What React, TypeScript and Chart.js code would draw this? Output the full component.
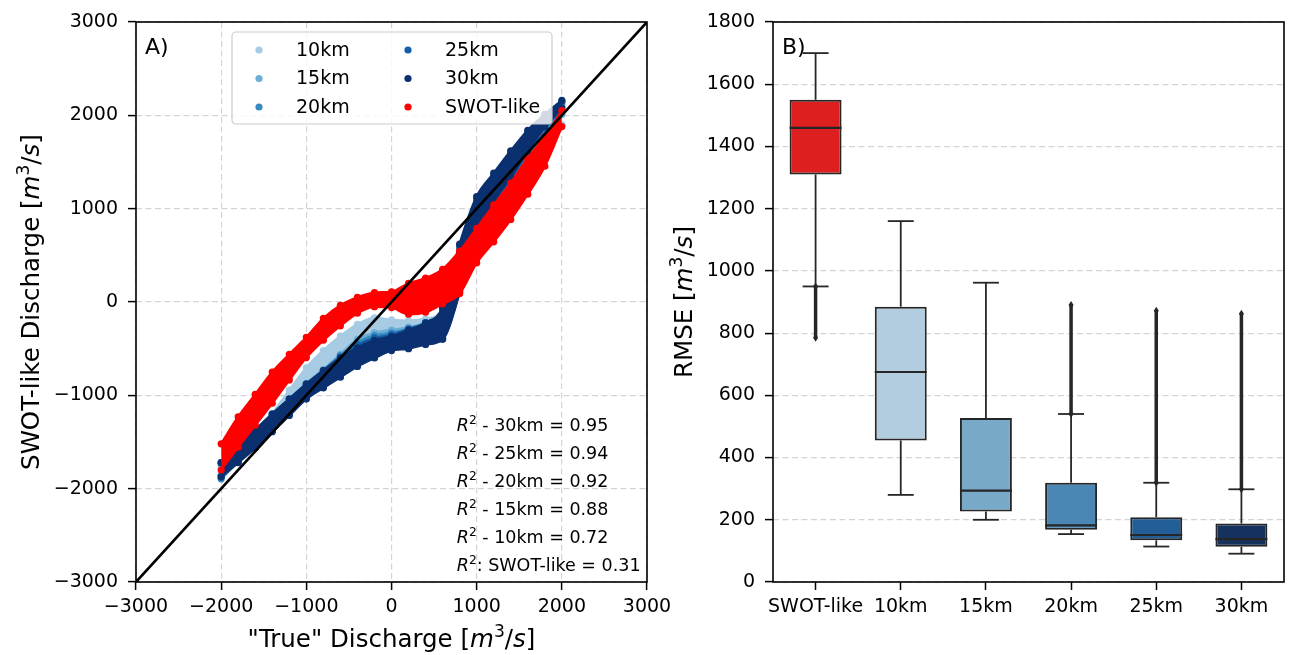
import { useEffect, useRef } from 'react';
import { Chart, registerables } from 'chart.js';

Chart.register(...registerables);

// ---------------- Panel A data (scatter bands) ----------------
const trueQ = [-2000, -1800, -1600, -1400, -1200, -1000, -800, -600, -400, -200, 0, 200, 400, 600, 800, 1000, 1200, 1400, 1600, 1800, 2000];

const swotUpper = [-1520, -1230, -990, -750, -560, -380, -175, -35, 50, 100, 110, 200, 255, 350, 545, 790, 1040, 1275, 1540, 1770, 2050];
const swotLower = [-1800, -1555, -1320, -1085, -835, -595, -410, -255, -120, -50, -60, -130, -110, -20, 90, 420, 645, 885, 1155, 1455, 1880];

const km10Upper = [-1760, -1640, -1430, -1195, -945, -705, -520, -365, -240, -170, -190, -200, -180, -90, 450, 930, 1180, 1430, 1700, 1960, 2090];
const km10Lower = [-1850, -1700, -1530, -1350, -1160, -985, -840, -715, -600, -510, -440, -420, -380, -280, 180, 700, 950, 1200, 1440, 1690, 1900];

const km15Upper = [-1735, -1560, -1385, -1210, -1040, -875, -725, -560, -400, -330, -300, -270, -220, -90, 540, 1040, 1290, 1540, 1770, 1990, 2120];
const km15Lower = [-1860, -1700, -1540, -1365, -1185, -1010, -890, -775, -660, -570, -485, -465, -425, -370, 150, 740, 1020, 1280, 1550, 1820, 2010];

const km20Upper = [-1725, -1550, -1378, -1205, -1038, -877, -732, -575, -430, -360, -330, -285, -220, -80, 575, 1080, 1330, 1575, 1800, 2000, 2135];
const km20Lower = [-1895, -1712, -1552, -1375, -1195, -1022, -902, -788, -672, -582, -497, -477, -437, -387, 125, 760, 1045, 1305, 1580, 1845, 2040];

const km25Upper = [-1722, -1545, -1374, -1202, -1040, -879, -734, -590, -460, -385, -350, -290, -222, -70, 600, 1105, 1355, 1600, 1820, 2005, 2150];
const km25Lower = [-1878, -1716, -1558, -1383, -1206, -1032, -912, -797, -682, -592, -510, -490, -447, -395, 110, 770, 1060, 1320, 1600, 1862, 2060];

const km30Upper = [-1720, -1540, -1370, -1200, -1040, -880, -735, -600, -490, -410, -370, -300, -225, -60, 620, 1130, 1380, 1620, 1840, 2010, 2160];
const km30Lower = [-1870, -1720, -1565, -1390, -1215, -1040, -920, -805, -690, -600, -520, -500, -455, -400, 100, 780, 1080, 1340, 1620, 1880, 2080];

const oneToOne = [-3000, 3000];

const axisTicksA = [-3000, -2000, -1000, 0, 1000, 2000, 3000];

const r2Names = ['30km', '25km', '20km', '15km', '10km', 'SWOT-like'];
const r2Values = [0.95, 0.94, 0.92, 0.88, 0.72, 0.31];
const r2TextX = 790;
const r2TextY = [-1320, -1620, -1920, -2220, -2520, -2820];

const legendNames = ['10km', '15km', '20km', '25km', '30km', 'SWOT-like'];
const legendColors = ['#a6cbe3', '#6baed6', '#3a8ac2', '#1460a8', '#0a3070', '#ff0000'];

// ---------------- Panel B data (box plot) ----------------
const boxCategories = ['SWOT-like', '10km', '15km', '20km', '25km', '30km'];
const whiskerLow = [950, 280, 200, 154, 114, 91];
const q1 = [1310, 455, 227, 168, 134, 113];
const median = [1460, 675, 294, 182, 151, 138];
const q3 = [1550, 885, 527, 319, 208, 188];
const whiskerHigh = [1700, 1160, 962, 540, 319, 298];
const flierMin: (number | null)[] = [785, null, null, 540, 319, 298];
const flierMax: (number | null)[] = [950, null, null, 890, 872, 862];
const boxColors = ['#dd1f20', '#b3cde0', '#79a9c9', '#4a87b5', '#225e97', '#15325f'];

// ---------------- helpers ----------------
const FAM = '"DejaVu Sans", sans-serif';
type Seg = { t: string; i?: boolean; s?: boolean };

function segFont(seg: Seg, size: number) {
  const sz = seg.s ? size * 0.7 : size;
  return `${seg.i ? 'italic ' : ''}${sz}px ${FAM}`;
}
function richWidth(ctx: CanvasRenderingContext2D, segs: Seg[], size: number) {
  let w = 0;
  for (const s of segs) {
    ctx.font = segFont(s, size);
    w += ctx.measureText(s.t).width;
  }
  return w;
}
function drawRich(ctx: CanvasRenderingContext2D, segs: Seg[], x: number, y: number, size: number, align: 'left' | 'center') {
  const w = richWidth(ctx, segs, size);
  let cx = align === 'center' ? x - w / 2 : x;
  ctx.textBaseline = 'alphabetic';
  ctx.textAlign = 'left';
  ctx.fillStyle = '#000';
  for (const s of segs) {
    ctx.font = segFont(s, size);
    ctx.fillText(s.t, cx, s.s ? y - size * 0.42 : y);
    cx += ctx.measureText(s.t).width;
  }
}
const unitSegs: Seg[] = [{ t: 'm', i: true }, { t: '3', s: true }, { t: '/' }, { t: 's', i: true }, { t: ']' }];

function fmtNum(v: number) {
  return v < 0 ? '\u2212' + Math.abs(v) : String(v);
}

const TICK_FONT = { family: FAM, size: 19 };
const GRID_COLOR = '#d4d4d4';
const DASH = [6, 3.5];

export default function App() {
  const leftRef = useRef<HTMLCanvasElement>(null);
  const rightRef = useRef<HTMLCanvasElement>(null);

  useEffect(() => {
    const series = [
      { name: 'SWOT-like', color: '#ff0000', upper: swotUpper, lower: swotLower },
      { name: '30km', color: '#0a3070', upper: km30Upper, lower: km30Lower },
      { name: '25km', color: '#1460a8', upper: km25Upper, lower: km25Lower },
      { name: '20km', color: '#3a8ac2', upper: km20Upper, lower: km20Lower },
      { name: '15km', color: '#6baed6', upper: km15Upper, lower: km15Lower },
      { name: '10km', color: '#a6cbe3', upper: km10Upper, lower: km10Lower },
    ];
    const datasets: any[] = [
      {
        label: '1:1',
        data: oneToOne.map((v) => ({ x: v, y: v })),
        borderColor: '#000',
        borderWidth: 2.6,
        pointRadius: 0,
        fill: false,
      },
    ];
    series.forEach((s) => {
      const lowerIdx = datasets.length;
      const common = {
        borderColor: s.color,
        backgroundColor: s.color,
        pointBackgroundColor: s.color,
        borderWidth: 2.5,
        pointRadius: 3.6,
        pointBorderWidth: 0,
        cubicInterpolationMode: 'monotone',
      };
      datasets.push({
        ...common,
        label: s.name + ' lower',
        data: trueQ.map((x, i) => ({ x, y: s.lower[i] })),
        fill: false,
      });
      datasets.push({
        ...common,
        label: s.name,
        data: trueQ.map((x, i) => ({ x, y: s.upper[i] })),
        fill: lowerIdx,
      });
    });

    const framePlugin = {
      id: 'frame',
      afterDraw(chart: any) {
        const { ctx, chartArea: a } = chart;
        ctx.save();
        ctx.strokeStyle = '#000';
        ctx.lineWidth = 1.6;
        ctx.strokeRect(a.left, a.top, a.right - a.left, a.bottom - a.top);
        ctx.restore();
      },
    };

    const panelAPlugin = {
      id: 'panelA',
      afterDraw(chart: any) {
        const { ctx, chartArea: a, scales } = chart;
        ctx.save();
        // legend
        const lx = a.left + 96, ly = a.top + 10, lw = 320, lh = 92;
        ctx.beginPath();
        ctx.roundRect(lx, ly, lw, lh, 4);
        ctx.fillStyle = 'rgba(255,255,255,0.82)';
        ctx.fill();
        ctx.strokeStyle = '#cccccc';
        ctx.lineWidth = 1.2;
        ctx.stroke();
        legendNames.forEach((n, i) => {
          const col = Math.floor(i / 3), row = i % 3;
          const mx = a.left + (col === 0 ? 123 : 272);
          const my = a.top + 28 + row * 28.5;
          ctx.beginPath();
          ctx.arc(mx, my, 3.6, 0, Math.PI * 2);
          ctx.fillStyle = legendColors[i];
          ctx.fill();
          ctx.fillStyle = '#000';
          ctx.font = `19px ${FAM}`;
          ctx.textAlign = 'left';
          ctx.textBaseline = 'middle';
          ctx.fillText(n, mx + 37, my + 1);
        });
        // panel label
        ctx.font = `22px ${FAM}`;
        ctx.textAlign = 'left';
        ctx.textBaseline = 'alphabetic';
        ctx.fillStyle = '#000';
        ctx.fillText('A)', a.left + 9, a.top + 32);
        // R2 annotations
        r2Names.forEach((n, i) => {
          const px = scales.x.getPixelForValue(r2TextX);
          const py = scales.y.getPixelForValue(r2TextY[i]);
          const sep = n === 'SWOT-like' ? ': ' : ' - ';
          drawRich(ctx, [{ t: 'R', i: true }, { t: '2', s: true }, { t: `${sep}${n} = ${r2Values[i].toFixed(2)}` }], px - 2, py + 6, 17.5, 'left');
        });
        // axis titles
        drawRich(ctx, [{ t: '"True" Discharge [' }, ...unitSegs], (a.left + a.right) / 2, 647, 24.5, 'center');
        ctx.save();
        ctx.translate(30, (a.top + a.bottom) / 2);
        ctx.rotate(-Math.PI / 2);
        drawRich(ctx, [{ t: 'SWOT-like Discharge [' }, ...unitSegs], 0, 9, 24.5, 'center');
        ctx.restore();
        ctx.restore();
      },
    };

    const c1 = new Chart(leftRef.current!, {
      type: 'line',
      data: { datasets },
      options: {
        responsive: false,
        animation: false,
        events: [],
        layout: { padding: { top: 22, right: 33, left: 0, bottom: 0 } },
        plugins: { legend: { display: false }, tooltip: { enabled: false } },
        scales: {
          x: {
            type: 'linear',
            min: -3000,
            max: 3000,
            afterBuildTicks: (s: any) => { s.ticks = axisTicksA.map((v) => ({ value: v })); },
            ticks: { font: TICK_FONT, color: '#000', padding: 6, maxRotation: 0, autoSkip: false, callback: (v: any) => fmtNum(Number(v)) },
            grid: { color: GRID_COLOR, lineWidth: 1.2, tickColor: '#000', tickLength: 8, tickWidth: 1.5 },
            border: { display: false, dash: DASH },
            afterFit: (s: any) => { s.height = 73; s.paddingLeft = 0; s.paddingRight = 0; },
          },
          y: {
            type: 'linear',
            min: -3000,
            max: 3000,
            afterBuildTicks: (s: any) => { s.ticks = axisTicksA.map((v) => ({ value: v })); },
            ticks: { font: TICK_FONT, color: '#000', padding: 10, callback: (v: any) => fmtNum(Number(v)) },
            grid: { color: GRID_COLOR, lineWidth: 1.2, tickColor: '#000', tickLength: 8, tickWidth: 1.5 },
            border: { display: false, dash: DASH },
            afterFit: (s: any) => { s.width = 136; s.paddingTop = 0; s.paddingBottom = 0; },
          },
        },
      },
      plugins: [framePlugin, panelAPlugin],
    } as any);

    const boxPlugin = {
      id: 'boxes',
      afterDatasetsDraw(chart: any) {
        const { ctx, scales } = chart;
        const y = scales.y;
        const meta = chart.getDatasetMeta(0);
        ctx.save();
        meta.data.forEach((bar: any, i: number) => {
          const cx = bar.x;
          const w = bar.width;
          const line = (x1: number, y1: number, x2: number, y2: number) => {
            ctx.beginPath();
            ctx.moveTo(x1, y1);
            ctx.lineTo(x2, y2);
            ctx.stroke();
          };
          ctx.strokeStyle = '#262626';
          ctx.fillStyle = '#262626';
          // fliers
          const fmin = flierMin[i], fmax = flierMax[i];
          if (fmin != null && fmax != null) {
            ctx.lineWidth = 3.5;
            line(cx, y.getPixelForValue(fmin), cx, y.getPixelForValue(fmax));
            [fmin, fmax].forEach((v) => {
              const py = y.getPixelForValue(v);
              ctx.beginPath();
              ctx.moveTo(cx, py - 4);
              ctx.lineTo(cx + 2.5, py);
              ctx.lineTo(cx, py + 4);
              ctx.lineTo(cx - 2.5, py);
              ctx.closePath();
              ctx.fill();
            });
          }
          ctx.lineWidth = 1.8;
          // whiskers
          line(cx, y.getPixelForValue(q1[i]), cx, y.getPixelForValue(whiskerLow[i]));
          line(cx, y.getPixelForValue(q3[i]), cx, y.getPixelForValue(whiskerHigh[i]));
          // caps
          line(cx - w / 4, y.getPixelForValue(whiskerLow[i]), cx + w / 4, y.getPixelForValue(whiskerLow[i]));
          line(cx - w / 4, y.getPixelForValue(whiskerHigh[i]), cx + w / 4, y.getPixelForValue(whiskerHigh[i]));
          // median
          ctx.lineWidth = 2.2;
          line(cx - w / 2, y.getPixelForValue(median[i]), cx + w / 2, y.getPixelForValue(median[i]));
        });
        ctx.restore();
      },
      afterDraw(chart: any) {
        const { ctx, chartArea: a } = chart;
        ctx.save();
        ctx.font = `22px ${FAM}`;
        ctx.textAlign = 'left';
        ctx.textBaseline = 'alphabetic';
        ctx.fillStyle = '#000';
        ctx.fillText('B)', a.left + 9, a.top + 32);
        ctx.translate(43, (a.top + a.bottom) / 2);
        ctx.rotate(-Math.PI / 2);
        drawRich(ctx, [{ t: 'RMSE [' }, ...unitSegs], 0, 9, 24.5, 'center');
        ctx.restore();
      },
    };

    const c2 = new Chart(rightRef.current!, {
      type: 'bar',
      data: {
        labels: boxCategories,
        datasets: [
          {
            label: 'RMSE',
            data: boxCategories.map((_, i) => [q1[i], q3[i]]),
            backgroundColor: boxColors,
            borderColor: '#262626',
            borderWidth: 2,
            borderSkipped: false,
            barPercentage: 0.61,
            categoryPercentage: 1,
          },
        ],
      },
      options: {
        responsive: false,
        animation: false,
        events: [],
        layout: { padding: { top: 22, right: 7, left: 0, bottom: 0 } },
        plugins: { legend: { display: false }, tooltip: { enabled: false } },
        scales: {
          x: {
            type: 'category',
            offset: true,
            ticks: { font: TICK_FONT, color: '#000', padding: 6, maxRotation: 0, autoSkip: false },
            grid: { display: true, drawOnChartArea: false, offset: false, tickColor: '#000', tickLength: 8, tickWidth: 1.5 },
            border: { display: false },
            afterFit: (s: any) => { s.height = 73; s.paddingLeft = 0; s.paddingRight = 0; },
          },
          y: {
            type: 'linear',
            min: 0,
            max: 1800,
            ticks: { stepSize: 200, font: TICK_FONT, color: '#000', padding: 10, callback: (v: any) => String(v) },
            grid: { color: GRID_COLOR, lineWidth: 1.2, tickColor: '#000', tickLength: 8, tickWidth: 1.5 },
            border: { display: false, dash: DASH },
            afterFit: (s: any) => { s.width = 133; s.paddingTop = 0; s.paddingBottom = 0; },
          },
        },
      },
      plugins: [framePlugin, boxPlugin],
    } as any);

    return () => {
      c1.destroy();
      c2.destroy();
    };
  }, []);

  return (
    <div style={{ position: 'fixed', left: 0, top: 0, width: 1291, height: 655, background: '#fff', overflow: 'hidden' }}>
      <canvas ref={leftRef} width={680} height={655} style={{ position: 'absolute', left: 0, top: 0, width: 680, height: 655 }} />
      <canvas ref={rightRef} width={651} height={655} style={{ position: 'absolute', left: 640, top: 0, width: 651, height: 655 }} />
    </div>
  );
}
